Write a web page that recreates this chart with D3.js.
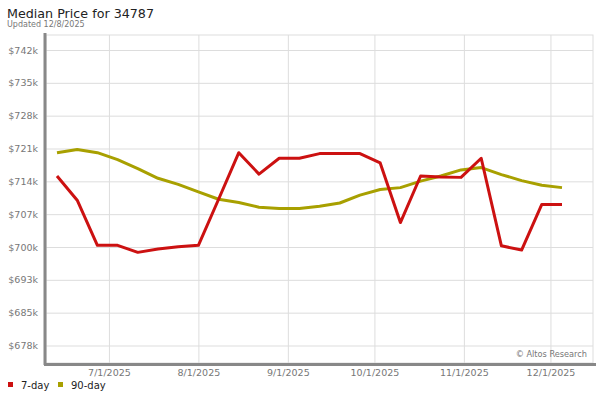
<!DOCTYPE html>
<html>
<head>
<meta charset="utf-8">
<script src="https://d3js.org/d3.v7.min.js"></script>
<style>
    body { margin: 0; background: #fff; }
    text { font-family: "DejaVu Sans", Verdana, sans-serif; }
</style>
</head>
<body>
<div id="chart"></div>
<script>
// weekly dates (fridays)
var weeks = ["2025-06-13", "2025-06-20", "2025-06-27", "2025-07-04", "2025-07-11", "2025-07-18",
    "2025-07-25", "2025-08-01", "2025-08-08", "2025-08-15", "2025-08-22", "2025-08-29",
    "2025-09-05", "2025-09-12", "2025-09-19", "2025-09-26", "2025-10-03", "2025-10-10",
    "2025-10-17", "2025-10-24", "2025-10-31", "2025-11-07", "2025-11-14", "2025-11-21",
    "2025-11-28", "2025-12-05"];

var sevenDay = [714800, 709600, 699900, 699900, 698400, 699100, 699600, 699900, 709800, 719800,
    715200, 718600, 718600, 719600, 719600, 719600, 717600, 704800, 714800, 714600,
    714500, 718600, 699800, 698900, 708700, 708700];

var ninetyDay = [719800, 720500, 719800, 718300, 716400, 714300, 713000, 711400, 709800, 709100,
    708100, 707800, 707800, 708300, 709000, 710700, 711900, 712300, 713700, 714800,
    716100, 716600, 715100, 713800, 712800, 712300];

var yTicks = [678400, 685450, 692500, 699550, 706600, 713650, 720700, 727750, 734800, 741850];
var monthTicks = ["2025-07-01", "2025-08-01", "2025-09-01", "2025-10-01", "2025-11-01", "2025-12-01"];

function init() {
    var w = 600;
    var h = 400;
    var left = 46, right = 593, top = 35, bottom = 363;

    var parse = d3.timeParse("%Y-%m-%d");

    var svg = d3.select("#chart")
        .append("svg")
        .attr("width", w)
        .attr("height", h);

    var xScale = d3.scaleTime()
        .domain([parse(weeks[0]), parse(weeks[weeks.length - 1])])
        .range([57, 562]);

    var yScale = d3.scaleLinear()
        .domain([699550, 741850])
        .range([247, 50]);

    // title
    svg.append("text")
        .attr("x", 7)
        .attr("y", 18)
        .attr("font-size", "12.7px")
        .attr("fill", "#222")
        .text("Median Price for 34787");

    svg.append("text")
        .attr("x", 7)
        .attr("y", 27)
        .attr("font-size", "8px")
        .attr("fill", "#777")
        .text("Updated 12/8/2025");

    // plot background
    svg.append("rect")
        .attr("x", left)
        .attr("y", top)
        .attr("width", right - left)
        .attr("height", bottom - top)
        .attr("fill", "#fff")
        .attr("stroke", "#ddd")
        .attr("stroke-width", 1);

    // horizontal grid
    var yAxis = d3.axisLeft(yScale)
        .tickValues(yTicks)
        .tickSize(-(right - left))
        .tickPadding(8)
        .tickFormat(function (d) { return "$" + Math.round(d / 1000) + "k"; });

    var gy = svg.append("g")
        .attr("transform", "translate(" + left + ",0)")
        .call(yAxis);
    gy.select(".domain").remove();
    gy.selectAll("line").attr("stroke", "#ddd");
    gy.selectAll("text")
        .attr("font-family", "DejaVu Sans")
        .attr("font-size", "9.5px")
        .attr("fill", "#777");

    // vertical grid
    var xAxis = d3.axisBottom(xScale)
        .tickValues(monthTicks.map(parse))
        .tickSize(-(bottom - top))
        .tickPadding(6)
        .tickFormat(d3.timeFormat("%-m/%-d/%Y"));

    var gx = svg.append("g")
        .attr("transform", "translate(0," + bottom + ")")
        .call(xAxis);
    gx.select(".domain").remove();
    gx.selectAll("line").attr("stroke", "#ddd");
    gx.selectAll("text")
        .attr("font-family", "DejaVu Sans")
        .attr("font-size", "9.5px")
        .attr("fill", "#777");

    // thick axis lines
    svg.append("line")
        .attr("x1", 45).attr("x2", 45)
        .attr("y1", 33).attr("y2", 365)
        .attr("stroke", "#888")
        .attr("stroke-width", 3);

    svg.append("line")
        .attr("x1", 44).attr("x2", 596)
        .attr("y1", 364.5).attr("y2", 364.5)
        .attr("stroke", "#888")
        .attr("stroke-width", 3);

    svg.append("text")
        .attr("x", 587)
        .attr("y", 357)
        .attr("text-anchor", "end")
        .attr("font-size", "8.2px")
        .attr("fill", "#777")
        .text("\u00a9 Altos Research");

    var line = d3.line()
        .x(function (d) { return xScale(d.date); })
        .y(function (d) { return yScale(d.value); });

    var series = [
        { name: "90-day", color: "#a8a000", values: ninetyDay },
        { name: "7-day", color: "#cc1111", values: sevenDay }
    ];

    series.forEach(function (s) {
        var pts = weeks.map(function (wk, i) {
            return { date: parse(wk), value: s.values[i] };
        });
        svg.append("path")
            .datum(pts)
            .attr("fill", "none")
            .attr("stroke", s.color)
            .attr("stroke-width", 3)
            .attr("stroke-linejoin", "round")
            .attr("d", line);
    });

    // legend
    var legend = [
        { name: "7-day", color: "#cc1111", x: 8 },
        { name: "90-day", color: "#a8a000", x: 58 }
    ];
    var lg = svg.selectAll(".legend")
        .data(legend)
        .enter()
        .append("g")
        .attr("transform", function (d) { return "translate(" + d.x + ",382)"; });
    lg.append("rect")
        .attr("width", 5)
        .attr("height", 5)
        .attr("fill", function (d) { return d.color; });
    lg.append("text")
        .attr("x", 13)
        .attr("y", 7)
        .attr("font-size", "10px")
        .attr("fill", "#222")
        .text(function (d) { return d.name; });
}
window.onload = init;
</script>
</body>
</html>
